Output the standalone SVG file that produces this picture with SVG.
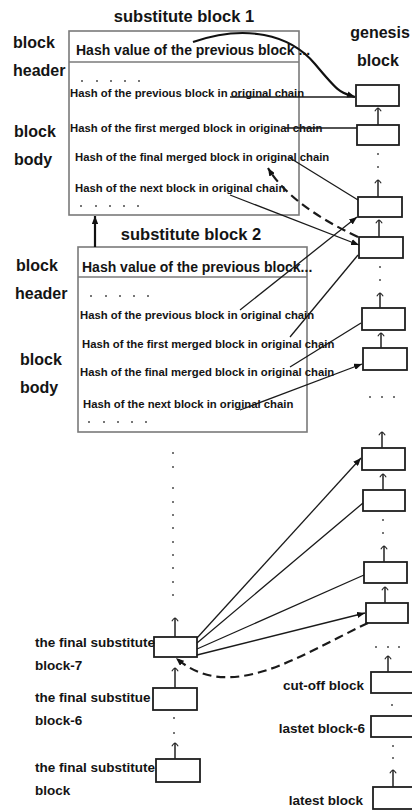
<svg xmlns="http://www.w3.org/2000/svg" width="412" height="810" viewBox="0 0 412 810">
<style>
text{font-family:"Liberation Sans",Arial,sans-serif;font-weight:bold;fill:#141414}
.lbl{font-size:16px}
.ttl{font-size:16.5px}
.hdr{font-size:14px}
.row{font-size:11.3px}
.sm{font-size:13.5px}
.big{fill:none;stroke:#7a7a7a;stroke-width:1.6}
.sep{stroke:#7a7a7a;stroke-width:1.6}
.blk{fill:#fff;stroke:#1e1e1e;stroke-width:1.8}
.ln{fill:none;stroke:#1a1a1a;stroke-width:1.3}
.ch{fill:none;stroke:#222;stroke-width:1.5}
.dash{fill:none;stroke:#1a1a1a;stroke-width:2.2;stroke-dasharray:9 5}
.dot{fill:#777}
</style>
<defs>
<marker id="af" viewBox="0 0 10 8" refX="10" refY="4" markerWidth="8" markerHeight="6.4" markerUnits="userSpaceOnUse" orient="auto"><path d="M0,0 L10,4 L0,8 z" fill="#111"/></marker>
<marker id="ca" viewBox="-1 -5 6 10" refX="4" refY="0" markerWidth="5" markerHeight="8" markerUnits="userSpaceOnUse" orient="auto"><path d="M0,-4 Q3,-2 4,0 Q3,2 0,4" fill="none" stroke="#222" stroke-width="1.4"/></marker>
</defs>

<g id="substitute-block-1">
<text class="ttl" x="184" y="22" text-anchor="middle">substitute block 1</text>
<text class="lbl" x="13" y="48">block</text>
<text class="lbl" x="13" y="76">header</text>
<text class="lbl" x="14" y="137">block</text>
<text class="lbl" x="14" y="165">body</text>
<rect class="big" x="69" y="31" width="230" height="184"/>
<line class="sep" x1="69" y1="62" x2="299" y2="62"/>
<text class="hdr" x="76" y="55">Hash value of the previous block ...</text>
<g class="dot"><rect x="81" y="80" width="2" height="2"/><rect x="96" y="80" width="2" height="2"/><rect x="110" y="80" width="2" height="2"/><rect x="124" y="80" width="2" height="2"/><rect x="138" y="80" width="2" height="2"/></g>
<text class="row" x="70" y="97">Hash of the previous block in original chain</text>
<text class="row" x="70" y="132">Hash of the first merged block in original chain</text>
<text class="row" x="75" y="161">Hash of the final merged block in original chain</text>
<text class="row" x="75" y="192">Hash of the next block in original chain</text>
<g class="dot"><rect x="80" y="205" width="2" height="2"/><rect x="95" y="205" width="2" height="2"/><rect x="109" y="205" width="2" height="2"/><rect x="123" y="205" width="2" height="2"/><rect x="137" y="205" width="2" height="2"/></g>
</g>

<g id="substitute-block-2">
<text class="ttl" x="191" y="240" text-anchor="middle">substitute block 2</text>
<text class="lbl" x="16" y="271">block</text>
<text class="lbl" x="15" y="299">header</text>
<text class="lbl" x="20" y="365">block</text>
<text class="lbl" x="20" y="393">body</text>
<rect class="big" x="78" y="247" width="229" height="185"/>
<line class="sep" x1="78" y1="277" x2="307" y2="277"/>
<text class="hdr" x="82" y="272">Hash value of the previous block...</text>
<g class="dot"><rect x="90" y="295" width="2" height="2"/><rect x="105" y="295" width="2" height="2"/><rect x="119" y="295" width="2" height="2"/><rect x="133" y="295" width="2" height="2"/><rect x="147" y="295" width="2" height="2"/></g>
<text class="row" x="80" y="319">Hash of the previous block in original chain</text>
<text class="row" x="82" y="348">Hash of the first merged block in original chain</text>
<text class="row" x="80" y="376">Hash of the final merged block in original chain</text>
<text class="row" x="83" y="408">Hash of the next block in original chain</text>
<g class="dot"><rect x="88" y="421" width="2" height="2"/><rect x="103" y="421" width="2" height="2"/><rect x="117" y="421" width="2" height="2"/><rect x="131" y="421" width="2" height="2"/><rect x="145" y="421" width="2" height="2"/></g>
</g>

<g id="genesis-label"><text class="lbl" x="380" y="38" text-anchor="middle">genesis</text><text class="lbl" x="378" y="66" text-anchor="middle">block</text></g>

<g id="chain-blocks">
<rect id="b1" class="blk" x="356" y="85" width="43" height="21"/>
<rect id="b2" class="blk" x="357" y="125" width="42" height="20"/>
<rect id="b3" class="blk" x="358" y="197" width="44" height="20"/>
<rect id="b4" class="blk" x="359" y="237" width="44" height="21"/>
<rect id="b5" class="blk" x="362" y="308" width="43" height="22"/>
<rect id="b6" class="blk" x="363" y="348" width="44" height="22"/>
<rect id="b7" class="blk" x="362" y="448" width="43" height="22"/>
<rect id="b8" class="blk" x="363" y="490" width="42" height="21"/>
<rect id="b9" class="blk" x="364" y="562" width="43" height="21"/>
<rect id="b10" class="blk" x="366" y="603" width="42" height="20"/>
</g>
<g id="cut-off-block"><rect class="blk" x="371" y="672" width="46" height="21"/><text class="sm" x="364" y="690" text-anchor="end">cut-off block</text></g>
<g id="lastet-block-6"><rect class="blk" x="371" y="716" width="46" height="21"/><text class="sm" x="365" y="733" text-anchor="end">lastet block-6</text></g>
<g id="latest-block"><rect class="blk" x="373" y="787" width="46" height="22"/><text class="sm" x="363" y="805" text-anchor="end">latest block</text></g>

<g id="final-substitute-block-7"><rect class="blk" x="154" y="637" width="43" height="20"/><text class="sm" x="35" y="647">the final substitute</text><text class="sm" x="35" y="670">block-7</text></g>
<g id="final-substitute-block-6"><rect class="blk" x="153" y="688" width="44" height="22"/><text class="sm" x="35" y="702">the final substitue</text><text class="sm" x="35" y="725">block-6</text></g>
<g id="final-substitute-block"><rect class="blk" x="156" y="759" width="44" height="23"/><text class="sm" x="35" y="772">the final substitute</text><text class="sm" x="35" y="795">block</text></g>

<g id="ellipses" class="dot">
<rect x="377" y="153" width="2" height="2"/><rect x="377" y="166" width="2" height="2"/>
<rect x="379" y="266" width="2" height="2"/><rect x="379" y="279" width="2" height="2"/>
<rect x="369" y="396" width="2" height="2"/><rect x="381" y="396" width="2" height="2"/><rect x="393" y="396" width="2" height="2"/>
<rect x="382" y="519" width="2" height="2"/><rect x="382" y="532" width="2" height="2"/>
<rect x="375" y="646" width="2" height="2"/><rect x="387" y="646" width="2" height="2"/><rect x="398" y="646" width="2" height="2"/>
<rect x="391" y="704" width="2" height="2"/>
<rect x="392" y="745" width="2" height="2"/><rect x="392" y="757" width="2" height="2"/>
<rect x="173" y="717" width="2" height="2"/><rect x="173" y="732" width="2" height="2"/>
<rect x="172" y="452" width="2" height="2"/><rect x="172" y="466" width="2" height="2"/><rect x="172" y="487" width="2" height="2"/><rect x="172" y="501" width="2" height="2"/><rect x="172" y="514" width="2" height="2"/><rect x="172" y="527" width="2" height="2"/><rect x="172" y="541" width="2" height="2"/><rect x="172" y="554" width="2" height="2"/><rect x="172" y="567" width="2" height="2"/><rect x="172" y="581" width="2" height="2"/><rect x="172" y="594" width="2" height="2"/>
</g>

<g id="connectors">
<line class="ch" x1="378" y1="125" x2="378" y2="108" marker-end="url(#ca)"/>
<line class="ch" x1="378" y1="197" x2="378" y2="180" marker-end="url(#ca)"/>
<line class="ch" x1="379" y1="237" x2="379" y2="220" marker-end="url(#ca)"/>
<line class="ch" x1="380" y1="308" x2="380" y2="293" marker-end="url(#ca)"/>
<line class="ch" x1="381" y1="348" x2="381" y2="333" marker-end="url(#ca)"/>
<line class="ch" x1="382" y1="448" x2="382" y2="432" marker-end="url(#ca)"/>
<line class="ch" x1="383" y1="490" x2="383" y2="474" marker-end="url(#ca)"/>
<line class="ch" x1="384" y1="562" x2="384" y2="546" marker-end="url(#ca)"/>
<line class="ch" x1="385" y1="603" x2="385" y2="587" marker-end="url(#ca)"/>
<line class="ch" x1="388" y1="672" x2="388" y2="656" marker-end="url(#ca)"/>
<line class="ch" x1="393" y1="787" x2="393" y2="770" marker-end="url(#ca)"/>
<line class="ch" x1="175" y1="637" x2="175" y2="618" marker-end="url(#ca)"/>
<line class="ch" x1="175" y1="688" x2="175" y2="668" marker-end="url(#ca)"/>
<line class="ch" x1="175" y1="759" x2="175" y2="743" marker-end="url(#ca)"/>

<line x1="95" y1="247" x2="95" y2="216" stroke="#111" stroke-width="2.2" marker-end="url(#af)"/>
<path d="M193,42 C245,24 290,34 315,64 S340,92 355,97" fill="none" stroke="#111" stroke-width="2.2" marker-end="url(#af)"/>
<line class="ln" x1="230" y1="97" x2="355" y2="97"/>
<line class="ln" x1="285" y1="128" x2="357" y2="128"/>
<line class="ln" x1="290" y1="158" x2="358" y2="200"/>
<line class="ln" x1="230" y1="195" x2="359" y2="245" marker-end="url(#af)"/>
<path class="dash" d="M358,237 Q290,205 268,168" marker-end="url(#af)"/>

<line class="ln" x1="240" y1="310" x2="357" y2="217" marker-end="url(#af)"/>
<line class="ln" x1="290" y1="337" x2="358" y2="255"/>
<line class="ln" x1="290" y1="367" x2="361" y2="323"/>
<line class="ln" x1="240" y1="410" x2="362" y2="364" marker-end="url(#af)"/>

<line class="ln" x1="197" y1="638" x2="361" y2="458" marker-end="url(#af)"/>
<line class="ln" x1="197" y1="643" x2="363" y2="503"/>
<line class="ln" x1="197" y1="649" x2="364" y2="575"/>
<line class="ln" x1="197" y1="655" x2="365" y2="613" marker-end="url(#af)"/>
<path class="dash" d="M368,623 C300,655 230,705 176,658" marker-end="url(#af)"/>
</g>
</svg>
